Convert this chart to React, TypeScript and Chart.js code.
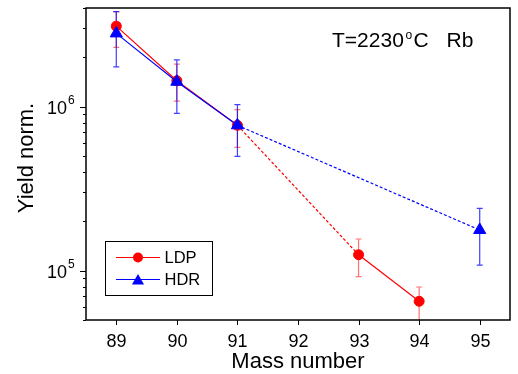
import React, { useEffect, useRef } from 'react';
import { Chart, registerables } from 'chart.js';

Chart.register(...registerables);

const FONT = "'Liberation Sans', Arial, Helvetica, sans-serif";

// ---- data ----
const ldpMass = [89, 90, 91, 93, 94];
const ldpYield = [3.1e6, 1.44e6, 7.7e5, 1.25e5, 6.5e4];
const ldpErrHigh = [3.8e6, 1.82e6, 9.6e5, 1.56e5, 7.95e4];
const ldpErrLow = [2.3e6, 1.08e6, 5.65e5, 9.2e4, 4.5e4];

const hdrMass = [89, 90, 91, 95];
const hdrYield = [2.8e6, 1.42e6, 7.7e5, 1.77e5];
const hdrErrHigh = [3.8e6, 1.93e6, 1.03e6, 2.4e5];
const hdrErrLow = [1.75e6, 9.1e5, 4.98e5, 1.08e5];

const xTicks = [89, 90, 91, 92, 93, 94, 95];
const yMajorTicks = [1e5, 1e6];
const yMajorExp = ['5', '6'];
const yMinorTicks = [5e4, 6e4, 7e4, 8e4, 9e4, 2e5, 3e5, 4e5, 5e5, 6e5, 7e5, 8e5, 9e5, 2e6, 3e6, 4e6];

const X_MIN = 88.5;
const X_MAX = 95.5;
const Y_MIN = 5e4;
const Y_MAX = 4e6;

const seriesNames = ['LDP', 'HDR'];
const RED = '#ff0000';
const BLUE = '#0000ff';

const dashedFrom = 91;

const errorBarPlugin = {
  id: 'errorBars',
  beforeDatasetsDraw(chart: any) {
    const { ctx, chartArea, scales } = chart;
    const xs = scales.x;
    const ys = scales.y;
    ctx.save();
    ctx.beginPath();
    ctx.rect(chartArea.left, chartArea.top, chartArea.right - chartArea.left, chartArea.bottom - chartArea.top);
    ctx.clip();
    const draw = (mass: number[], lo: number[], hi: number[], color: string) => {
      ctx.strokeStyle = color;
      ctx.lineWidth = 1.2;
      mass.forEach((m, i) => {
        const x = xs.getPixelForValue(m);
        const yl = ys.getPixelForValue(lo[i]);
        const yh = ys.getPixelForValue(hi[i]);
        ctx.beginPath();
        ctx.moveTo(x, yl);
        ctx.lineTo(x, yh);
        ctx.moveTo(x - 3, yl);
        ctx.lineTo(x + 3, yl);
        ctx.moveTo(x - 3, yh);
        ctx.lineTo(x + 3, yh);
        ctx.stroke();
      });
    };
    draw(ldpMass, ldpErrLow, ldpErrHigh, 'rgba(255,0,0,0.55)');
    draw(hdrMass, hdrErrLow, hdrErrHigh, 'rgba(0,0,255,0.75)');
    ctx.restore();
  },
};

const decorPlugin = {
  id: 'decor',
  afterDraw(chart: any) {
    const { ctx, chartArea, scales } = chart;
    const xs = scales.x;
    const ys = scales.y;
    const { left, right, top, bottom } = chartArea;
    ctx.save();
    // frame
    ctx.strokeStyle = '#000';
    ctx.lineWidth = 1.5;
    ctx.strokeRect(left, top, right - left, bottom - top);

    // x ticks + labels
    ctx.lineWidth = 1;
    ctx.fillStyle = '#000';
    ctx.font = `18px ${FONT}`;
    ctx.textAlign = 'center';
    ctx.textBaseline = 'alphabetic';
    xTicks.forEach((v) => {
      const x = Math.round(xs.getPixelForValue(v)) + 0.5;
      ctx.beginPath();
      ctx.moveTo(x, bottom);
      ctx.lineTo(x, bottom + 5);
      ctx.stroke();
      ctx.fillText(String(v), x, bottom + 26.5);
    });

    // y ticks
    yMinorTicks.forEach((v) => {
      const y = Math.round(ys.getPixelForValue(v)) + 0.5;
      ctx.beginPath();
      ctx.moveTo(left, y);
      ctx.lineTo(left - 3, y);
      ctx.stroke();
    });
    yMajorTicks.forEach((v, i) => {
      const y = Math.round(ys.getPixelForValue(v)) + 0.5;
      ctx.beginPath();
      ctx.moveTo(left, y);
      ctx.lineTo(left - 6, y);
      ctx.stroke();
      ctx.font = `18px ${FONT}`;
      ctx.textAlign = 'right';
      ctx.textBaseline = 'middle';
      ctx.fillText('10', left - 19, y + 1.5);
      ctx.font = `12px ${FONT}`;
      ctx.textAlign = 'left';
      ctx.fillText(yMajorExp[i], left - 18, y - 7);
    });

    // axis titles
    ctx.font = `22px ${FONT}`;
    ctx.textAlign = 'center';
    ctx.textBaseline = 'alphabetic';
    ctx.fillText('Mass number', (left + right) / 2, 368);
    ctx.save();
    ctx.translate(33, (top + bottom) / 2 - 6);
    ctx.rotate(-Math.PI / 2);
    ctx.fillText('Yield norm.', 0, 0);
    ctx.restore();

    // annotation
    ctx.textAlign = 'left';
    ctx.font = `21px ${FONT}`;
    ctx.fillText('T=2230', 332, 47);
    ctx.font = `12px ${FONT}`;
    ctx.fillText('o', 405.5, 38.5);
    ctx.font = `21px ${FONT}`;
    ctx.fillText('C', 413.5, 47);
    ctx.fillText('Rb', 446.5, 47);

    // legend
    ctx.lineWidth = 1;
    ctx.strokeStyle = '#000';
    ctx.strokeRect(105.5, 241.5, 107, 54);
    const rows = [
      { name: seriesNames[0], color: RED, y: 257.5, style: 'circle' },
      { name: seriesNames[1], color: BLUE, y: 279.5, style: 'triangle' },
    ];
    rows.forEach((r) => {
      ctx.strokeStyle = r.color;
      ctx.lineWidth = 1;
      ctx.beginPath();
      ctx.moveTo(116, r.y);
      ctx.lineTo(160, r.y);
      ctx.stroke();
      ctx.fillStyle = r.color;
      ctx.beginPath();
      if (r.style === 'circle') {
        ctx.arc(138, r.y, 5, 0, Math.PI * 2);
      } else {
        const rr = 7;
        ctx.moveTo(138, r.y - rr + 1.5);
        ctx.lineTo(138 + rr * 0.866, r.y + rr / 2 + 1.5);
        ctx.lineTo(138 - rr * 0.866, r.y + rr / 2 + 1.5);
        ctx.closePath();
      }
      ctx.fill();
      ctx.fillStyle = '#000';
      ctx.font = `16.5px ${FONT}`;
      ctx.textAlign = 'left';
      ctx.textBaseline = 'middle';
      ctx.fillText(r.name, 164.5, r.y + 1);
    });
    ctx.restore();
  },
};

export default function App() {
  const ref = useRef<HTMLCanvasElement>(null);
  useEffect(() => {
    document.body.style.margin = '0';
    const seg = (ctx: any) => (ctx.p0.parsed.x === dashedFrom ? [3, 2] : undefined);
    const chart = new Chart(ref.current as HTMLCanvasElement, {
      type: 'line',
      data: {
        datasets: [
          {
            label: seriesNames[0],
            data: ldpMass.map((m, i) => ({ x: m, y: ldpYield[i] })),
            borderColor: RED,
            backgroundColor: RED,
            borderWidth: 1.2,
            pointStyle: 'circle',
            pointRadius: 5,
            pointBorderWidth: 1,
            order: 1,
            segment: { borderDash: seg },
          },
          {
            label: seriesNames[1],
            data: hdrMass.map((m, i) => ({ x: m, y: hdrYield[i] })),
            borderColor: BLUE,
            backgroundColor: BLUE,
            borderWidth: 1.2,
            pointStyle: 'triangle',
            pointRadius: 7,
            pointBorderWidth: 1,
            order: 0,
            segment: { borderDash: seg },
          },
        ],
      },
      options: {
        animation: false,
        responsive: false,
        maintainAspectRatio: false,
        layout: { padding: { left: 86, top: 7, right: 3, bottom: 54 } },
        scales: {
          x: { type: 'linear', min: X_MIN, max: X_MAX, display: false },
          y: { type: 'logarithmic', min: Y_MIN, max: Y_MAX, display: false },
        },
        plugins: { legend: { display: false }, tooltip: { enabled: false } },
      },
      plugins: [errorBarPlugin, decorPlugin],
    });
    return () => chart.destroy();
  }, []);
  return (
    <div style={{ width: 518, height: 374 }}>
      <canvas ref={ref} width={518} height={374} style={{ display: 'block' }} />
    </div>
  );
}
